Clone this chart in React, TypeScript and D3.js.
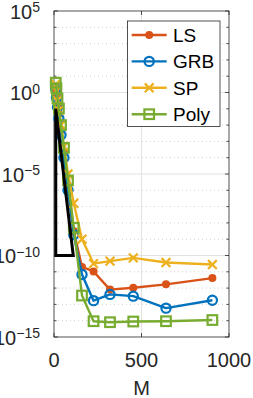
import React, { useEffect, useRef } from 'react';
import * as d3 from 'd3';

// number of points M and the error of each method
const M = [10, 14, 20, 28, 40, 57, 80, 113, 160, 226, 320, 453, 640, 905];
const ls = [2.0, 0.8, 0.2, 0.05, 5e-3, 2e-4, 2e-6, 3.2e-9, 2e-11, 1.05e-11, 8.1e-13, 1.05e-12, 1.7e-12, 4.1e-12];
const grb = [1.6, 0.5, 0.126, 0.025, 2.5e-3, 1e-4, 1e-6, 1.9e-9, 6.8e-12, 1.7e-13, 4.1e-13, 3.2e-13, 5.9e-14, 1.8e-13];
const sp = [3.2, 1.26, 0.32, 0.08, 0.01, 5e-4, 1e-5, 1.6e-7, 1e-9, 3.2e-11, 4.5e-11, 7.2e-11, 3.7e-11, 2.8e-11];
const poly = [4.0, 1.8, 0.43, 0.105, 0.01, 4e-4, 4e-6, 5e-9, 3.5e-13, 9.3e-15, 8.1e-15, 8.9e-15, 9.3e-15, 1.1e-14];

// slope triangle
const triM = [10, 10, 110];
const triErr = [1e-1, 1e-10, 1e-10];

const xTicks = [0, 500, 1000];
const yExps = [5, 0, -5, -10, -15];
const names = ['LS', 'GRB', 'SP', 'Poly'];
const colors = ['#D95319', '#0072BD', '#EDB120', '#77AC30'];

const FONT = 'Liberation Sans, Arial, Helvetica, sans-serif';

export default function App() {
  const ref = useRef<SVGSVGElement>(null);

  useEffect(() => {
    const svg = d3.select(ref.current);
    svg.selectAll('*').remove();

    const left = 54, right = 229, top = 11, bottom = 337;
    const x = d3.scaleLinear().domain([0, 1000]).range([left, right]);
    const y = d3.scaleLog().domain([1e-15, 1e5]).range([bottom, top]);

    // minor grid (dotted), every decade
    const minors = d3.range(-14, 5).filter(e => e % 5 !== 0);
    svg.append('g').selectAll('line').data(minors).enter().append('line')
      .attr('x1', left).attr('x2', right)
      .attr('y1', d => y(Math.pow(10, d))).attr('y2', d => y(Math.pow(10, d)))
      .attr('stroke', '#c4c4c4').attr('stroke-width', 0.8)
      .attr('stroke-dasharray', '1 3');

    // major grid
    svg.append('g').selectAll('line').data(yExps.slice(1, 4)).enter().append('line')
      .attr('x1', left).attr('x2', right)
      .attr('y1', d => y(Math.pow(10, d))).attr('y2', d => y(Math.pow(10, d)))
      .attr('stroke', '#e2e2e2').attr('stroke-width', 1);
    svg.append('line')
      .attr('x1', x(500)).attr('x2', x(500)).attr('y1', top).attr('y2', bottom)
      .attr('stroke', '#e2e2e2').attr('stroke-width', 1);

    // ticks
    const tk = svg.append('g').attr('stroke', '#262626').attr('stroke-width', 0.8);
    d3.range(-15, 6).forEach(e => {
      const len = e % 5 === 0 ? 4 : 2.5;
      const yy = y(Math.pow(10, e));
      tk.append('line').attr('x1', left).attr('x2', left + len).attr('y1', yy).attr('y2', yy);
      tk.append('line').attr('x1', right).attr('x2', right - len).attr('y1', yy).attr('y2', yy);
    });
    xTicks.forEach(t => {
      tk.append('line').attr('x1', x(t)).attr('x2', x(t)).attr('y1', bottom).attr('y2', bottom - 4);
      tk.append('line').attr('x1', x(t)).attr('x2', x(t)).attr('y1', top).attr('y2', top + 4);
    });

    // box
    svg.append('rect')
      .attr('x', left).attr('y', top).attr('width', right - left).attr('height', bottom - top)
      .attr('fill', 'none').attr('stroke', '#262626').attr('stroke-width', 0.8);

    // y tick labels 10^e
    yExps.forEach(e => {
      const yy = y(Math.pow(10, e));
      const t = svg.append('text')
        .attr('x', 40).attr('y', yy + 7.5)
        .attr('text-anchor', 'end')
        .attr('font-family', FONT).attr('fill', '#262626');
      t.append('tspan').attr('font-size', 20).text('10');
      t.append('tspan').attr('font-size', 14).attr('dy', -6.5).text(e < 0 ? '\u2212' + (-e) : String(e));
    });

    // x tick labels
    svg.append('g').selectAll('text').data(xTicks).enter().append('text')
      .attr('x', d => x(d)).attr('y', 366.5)
      .attr('text-anchor', 'middle')
      .attr('font-family', FONT).attr('font-size', 20).attr('fill', '#262626')
      .text(d => String(d));

    svg.append('text')
      .attr('x', (left + right) / 2).attr('y', 395)
      .attr('text-anchor', 'middle')
      .attr('font-family', FONT).attr('font-size', 20).attr('fill', '#262626')
      .text('M');

    const line = d3.line<[number, number]>()
      .x(d => x(d[0]))
      .y(d => y(d[1]));

    const drawMarker = (g: any, kind: number, cx: number, cy: number, color: string) => {
      if (kind === 0) {
        g.append('circle').attr('cx', cx).attr('cy', cy).attr('r', 4).attr('fill', color);
      } else if (kind === 1) {
        g.append('circle').attr('cx', cx).attr('cy', cy).attr('r', 4.6)
          .attr('fill', 'none').attr('stroke', color).attr('stroke-width', 2.2);
      } else if (kind === 2) {
        const s = 4.4;
        g.append('path')
          .attr('d', `M${cx - s},${cy - s}L${cx + s},${cy + s}M${cx - s},${cy + s}L${cx + s},${cy - s}`)
          .attr('stroke', color).attr('stroke-width', 2.2).attr('fill', 'none');
      } else {
        const s = 4.8;
        g.append('rect').attr('x', cx - s).attr('y', cy - s).attr('width', 2 * s).attr('height', 2 * s)
          .attr('fill', 'none').attr('stroke', color).attr('stroke-width', 2.2);
      }
    };

    const all = [ls, grb, sp, poly];
    all.forEach((vals, i) => {
      const pts = M.map((m, j) => [m, vals[j]] as [number, number]);
      const g = svg.append('g');
      g.append('path')
        .attr('d', line(pts))
        .attr('fill', 'none').attr('stroke', colors[i]).attr('stroke-width', 2.4)
        .attr('stroke-linejoin', 'round');
      pts.forEach(p => drawMarker(g, i, x(p[0]), y(p[1]), colors[i]));
    });

    // slope triangle
    const tri = triM.map((m, j) => [m, triErr[j]] as [number, number]);
    svg.append('path')
      .attr('d', line(tri) + 'Z')
      .attr('fill', 'none').attr('stroke', '#000').attr('stroke-width', 3);

    // legend
    const lg = svg.append('g');
    lg.append('rect')
      .attr('x', 127.5).attr('y', 21).attr('width', 92.5).attr('height', 105.5)
      .attr('fill', '#fff').attr('stroke', '#262626').attr('stroke-width', 0.8);
    names.forEach((n, i) => {
      const ly = 35 + i * 26.4;
      lg.append('line').attr('x1', 131.7).attr('x2', 166.7).attr('y1', ly).attr('y2', ly)
        .attr('stroke', colors[i]).attr('stroke-width', 2.4);
      drawMarker(lg, i, 149.2, ly, colors[i]);
      lg.append('text').attr('x', 173).attr('y', ly + 6.8)
        .attr('font-family', FONT).attr('font-size', 19).attr('fill', '#000')
        .text(n);
    });
  }, []);

  return (
    <svg ref={ref} width={253} height={398}
      style={{ position: 'absolute', left: 0, top: 0, background: '#fff' }} />
  );
}
